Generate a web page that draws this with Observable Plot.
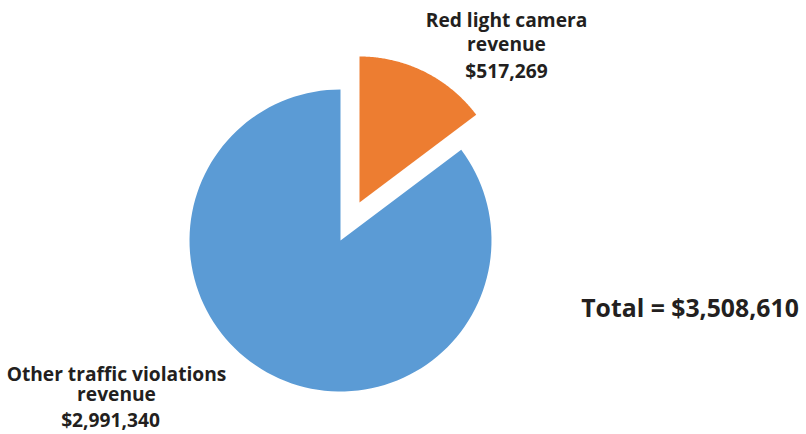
<!DOCTYPE html>
<html>
<head>
<meta charset="utf-8">
<script src="https://cdn.jsdelivr.net/npm/d3@7"></script>
<script src="https://cdn.jsdelivr.net/npm/@observablehq/plot@0.6"></script>
<style>
  html, body { margin: 0; padding: 0; background: #fff; }
  #chart svg { display: block; }
</style>
</head>
<body>
<div id="chart"></div>
<script>
// ---- Data ----
const categories = ["Red light camera revenue", "Other traffic violations revenue"];
const labelText = ["Red light camera\nrevenue", "Other traffic violations\nrevenue"];
const values = [517269, 2991340];
const totalValue = 3508610;
const colors = ["#ED7D31", "#5B9BD5"];

// ---- Layout (pixel units relative to pie centre) ----
const W = 806, H = 434;
const cx = 340, cy = 240;
const radii = [146, 151];
const explode = [42.5, 0];

const fmt = d3.format("$,");
const arcs = d3.pie().sort(null).value(d => d)(values);

// polygon points for each slice
const pts = [];
arcs.forEach((a, i) => {
  const mid = (a.startAngle + a.endAngle) / 2;
  const ox = explode[i] * Math.sin(mid), oy = -explode[i] * Math.cos(mid);
  const r = radii[i];
  pts.push({cat: categories[i], x: ox, y: oy});
  const n = 120;
  for (let k = 0; k <= n; k++) {
    const t = a.startAngle + (a.endAngle - a.startAngle) * k / n;
    pts.push({cat: categories[i], x: ox + r * Math.sin(t), y: oy - r * Math.cos(t)});
  }
  pts.push({cat: categories[i], x: ox, y: oy});
});

// label anchors (baselines)
const labelPos = [
  {xName: 166, xVal: 166, yName: -190, yVal: -163, lh: 1.2},
  {xName: -224, xVal: -230, yName: 160, yVal: 186, lh: 1.04}
];
const fontSz = 19.2;
const textStyle = {textAnchor: "middle", lineAnchor: "bottom", fontSize: fontSz, fontWeight: "bold",
  fill: "#231F20", fontFamily: "Open Sans"};

const chart = Plot.plot({
  width: W,
  height: H,
  margin: 0,
  x: {domain: [-cx, W - cx], range: [0, W], axis: null},
  y: {domain: [-cy, H - cy], range: [0, H], axis: null},
  color: {domain: categories, range: colors},
  marks: [
    Plot.line(pts, {x: "x", y: "y", z: "cat", fill: "cat", stroke: null, curve: "linear"}),
    ...categories.map((c, i) => Plot.text([labelText[i]], {
      x: () => labelPos[i].xName, y: () => labelPos[i].yName, text: d => d,
      lineHeight: labelPos[i].lh, ...textStyle})),
    Plot.text(values, {x: (d, i) => labelPos[i].xVal, y: (d, i) => labelPos[i].yVal, text: d => fmt(d), ...textStyle}),
    Plot.text(["Total = " + fmt(totalValue)], {x: () => 349.5, y: () => 76.5, text: d => d,
      ...textStyle, fontSize: 24.8})
  ]
});
document.getElementById("chart").appendChild(chart);
</script>
</body>
</html>
